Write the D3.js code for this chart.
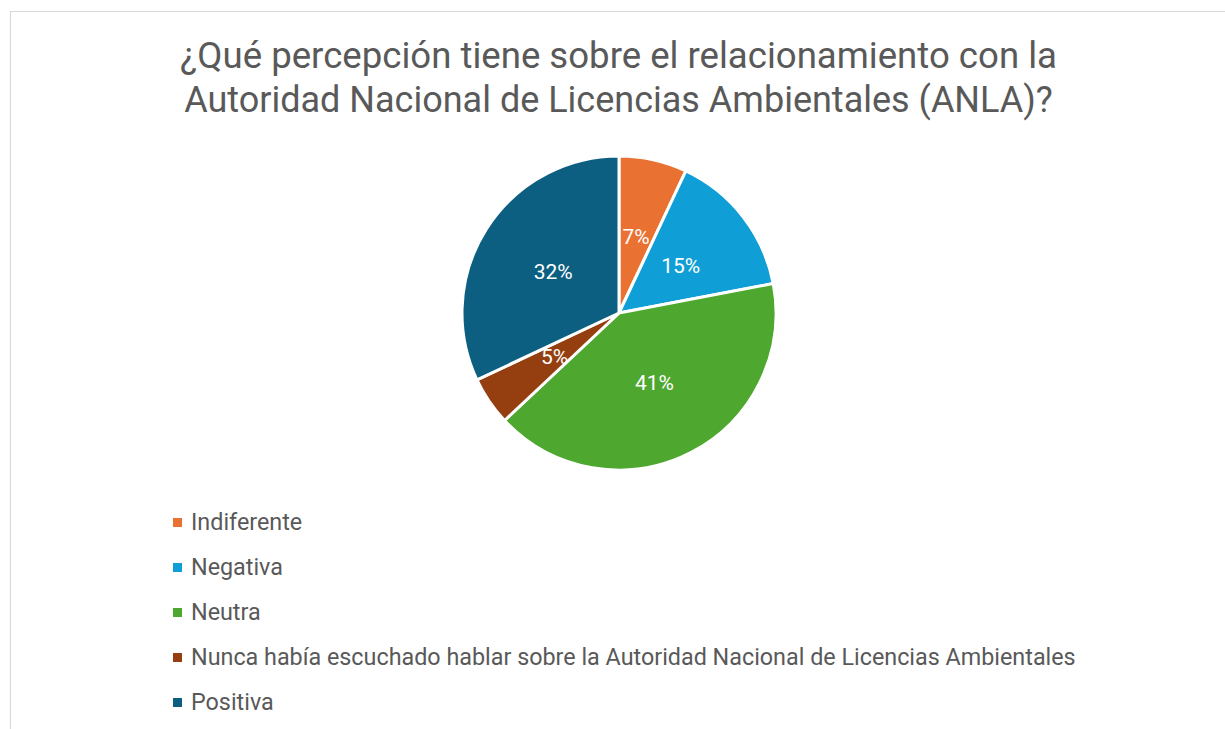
<!DOCTYPE html>
<html><head><meta charset="utf-8">
<script src="https://cdn.jsdelivr.net/npm/d3@7"></script>
<style>body{margin:0;background:#fff} svg{display:block}</style></head>
<body>
<svg id="c" width="1225" height="729"></svg>
<script>
const categories = ["Indiferente","Negativa","Neutra","Nunca había escuchado hablar sobre la Autoridad Nacional de Licencias Ambientales","Positiva"];
const values = [7,15,41,5,32];
const labels = ["7%","15%","41%","5%","32%"];
const colors = ["#E97132","#0F9ED5","#4EA72E","#953F10","#0C5F80"];
const titleLines = ["¿Qué percepción tiene sobre el relacionamiento con la","Autoridad Nacional de Licencias Ambientales (ANLA)?"];

const svg = d3.select("#c");
const FONT = "Roboto, 'Liberation Sans', sans-serif";

// chart area border
svg.append("path").attr("d","M10.5,729 V11.5 H1225").attr("fill","none").attr("stroke","#d9d9d9").attr("stroke-width",1.2);

function fit(sel, target, base){
  sel.attr("font-size", base);
  const w = sel.node().getComputedTextLength();
  sel.attr("font-size", base*target/w);
}

// title
const tW = [877, 869], tY = [68, 112];
titleLines.forEach((t,i)=>{
  const s = svg.append("text").attr("x",618.5).attr("y",tY[i]).attr("text-anchor","middle")
    .attr("font-family",FONT).attr("fill","#595959").text(t);
  fit(s, tW[i], 31);
});

// pie
const cx = 619, cy = 313, R = 157;
const pie = d3.pie().sort(null).value(d=>d)(values);
const arc = d3.arc().innerRadius(0).outerRadius(R);
const g = svg.append("g").attr("transform",`translate(${cx},${cy})`);
g.selectAll("path").data(pie).join("path")
  .attr("d",arc).attr("fill",(d,i)=>colors[i])
  .attr("stroke","#fff").attr("stroke-width",3).attr("stroke-linejoin","round");
const lab = d3.arc().innerRadius(78).outerRadius(78);
g.selectAll("text").data(pie).join("text")
  .attr("transform",d=>`translate(${lab.centroid(d)})`)
  .attr("text-anchor","middle").attr("dy","0.36em")
  .attr("font-family",FONT).attr("font-size",21).attr("fill","#fff")
  .text((d,i)=>labels[i]);

// legend
const ly = d3.scalePoint().domain(categories).range([522.5, 702.5]);
const lg = svg.append("g");
categories.forEach((c,i)=>{
  const y = ly(c);
  lg.append("rect").attr("x",173).attr("y",y-4.5).attr("width",9).attr("height",9).attr("fill",colors[i]);
  const t = lg.append("text").attr("x",191).attr("y",y+7.5)
    .attr("font-family",FONT).attr("fill","#595959").attr("font-size",21).text(c);
  if(i===3) fit(t, 885, 21);
});
const fs = lg.selectAll("text").filter((d,i)=>i===3).attr("font-size");
lg.selectAll("text").attr("font-size",fs);
</script>
</body></html>
